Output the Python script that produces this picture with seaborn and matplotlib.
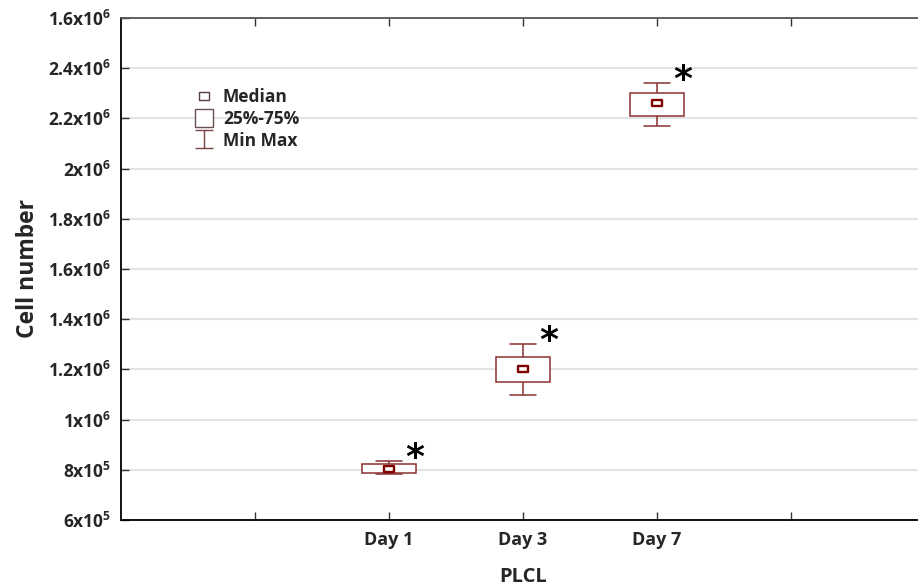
import numpy as np
import pandas as pd
import matplotlib
matplotlib.use("Agg")
import matplotlib.pyplot as plt
from matplotlib.lines import Line2D
from matplotlib.path import Path
import seaborn as sns

# ---- data ----
days = ["Day 1", "Day 3", "Day 7"]
positions = [2, 3, 4]
mins = [7.83e5, 1.10e6, 2.17e6]
q1s = [7.88e5, 1.15e6, 2.21e6]
medians = [8.02e5, 1.20e6, 2.26e6]
q3s = [8.23e5, 1.25e6, 2.30e6]
maxs = [8.34e5, 1.30e6, 2.34e6]

x_ticks = [1, 2, 3, 4, 5]
x_tick_labels = ["", "Day 1", "Day 3", "Day 7", ""]
y_ticks = [6e5, 8e5, 1e6, 1.2e6, 1.4e6, 1.6e6, 1.8e6, 2e6, 2.2e6, 2.4e6, 2.6e6]
y_tick_labels = ["6x10$^5$", "8x10$^5$", "1x10$^6$", "1.2x10$^6$", "1.4x10$^6$",
                 "1.6x10$^6$", "1.8x10$^6$", "2x10$^6$", "2.2x10$^6$", "2.4x10$^6$",
                 "1.6x10$^6$"]
legend_labels = ["Median", "25%-75%", "Min Max"]
star_text = "*"

# long table: five summary values per day give exact quartiles with whis=(0,100)
rows = []
for p, a, b, c, d, e in zip(positions, mins, q1s, medians, q3s, maxs):
    for v in (a, b, c, d, e):
        rows.append({"pos": p, "value": v})
df = pd.DataFrame(rows)

sns.set_theme(style="white")
plt.rcParams["font.family"] = ["Open Sans", "DejaVu Sans"]
plt.rcParams["mathtext.default"] = "regular"

BOX = "#8a3030"
MED = "#800000"

fig = plt.figure(figsize=(9.18, 5.86), dpi=100)
ax = fig.add_axes([121 / 918, (586 - 520) / 586, (925 - 121) / 918, (520 - 18) / 586])

sns.boxplot(data=df, x="pos", y="value", native_scale=True, width=0.4,
            whis=(0, 100), showfliers=False, color="white", linecolor=BOX,
            linewidth=1.1, medianprops={"linewidth": 0}, ax=ax)

rect = Path([(-1.35, -1), (1.35, -1), (1.35, 1), (-1.35, 1), (-1.35, -1)],
            [Path.MOVETO, Path.LINETO, Path.LINETO, Path.LINETO, Path.CLOSEPOLY])
sns.scatterplot(x=positions, y=medians, marker=rect, s=45, color="white",
                edgecolor=MED, linewidth=1.7, ax=ax, zorder=5)

for p, mx in zip(positions, maxs):
    ax.text(p + 0.195, mx + 0.012e6, star_text, ha="center", va="center",
            fontsize=26, fontweight="bold", color="black",
            family=["DejaVu Sans"])

ax.set_xlim(0, 6)
ax.set_ylim(6e5, 2.6e6)
ax.set_xticks(x_ticks)
ax.set_xticklabels(x_tick_labels, fontsize=13, fontweight="bold")
ax.set_yticks(y_ticks)
ax.set_yticklabels(y_tick_labels, fontsize=12.5, fontweight="bold")
ax.tick_params(axis="both", direction="in", length=6, width=1, color="#333333",
               top=True, left=True, bottom=True, right=False)
ax.tick_params(axis="y", pad=7)
ax.tick_params(axis="x", pad=8)
ax.yaxis.grid(True, color="#e3e3e3", linewidth=1.5)
ax.xaxis.grid(False)
ax.set_axisbelow(True)

for side in ("left", "bottom"):
    ax.spines[side].set_color("black")
    ax.spines[side].set_linewidth(1.3)
ax.spines["top"].set_color("#555555")
ax.spines["top"].set_linewidth(1.3)
ax.spines["right"].set_visible(False)

ax.set_xlabel("PLCL", fontsize=14.5, fontweight="bold", labelpad=13)
ax.set_ylabel("Cell number", fontsize=16.5, fontweight="bold", labelpad=6)

whisk = Path([(-1, 1), (1, 1), (0, 1), (0, -1), (-1, -1), (1, -1)],
             [Path.MOVETO, Path.LINETO, Path.MOVETO, Path.LINETO, Path.MOVETO, Path.LINETO])
handles = [
    Line2D([], [], linestyle="none", marker=rect, markersize=7, markerfacecolor="white",
           markeredgecolor="#5a4040", markeredgewidth=1.0),
    Line2D([], [], linestyle="none", marker="s", markersize=13.5, markerfacecolor="white",
           markeredgecolor="#6a5050", markeredgewidth=1.0),
    Line2D([], [], linestyle="none", marker=whisk, markersize=12.5, markerfacecolor="none",
           markeredgecolor="#7a4545", markeredgewidth=1.0),
]
ax.legend(handles, legend_labels, loc="upper left", bbox_to_anchor=(0.075, 0.878),
          frameon=False, prop={"weight": "bold", "size": 12.5}, labelspacing=0.22,
          handletextpad=0.3, handlelength=1.6, borderpad=0)

fig.savefig("out.png", dpi=100)
